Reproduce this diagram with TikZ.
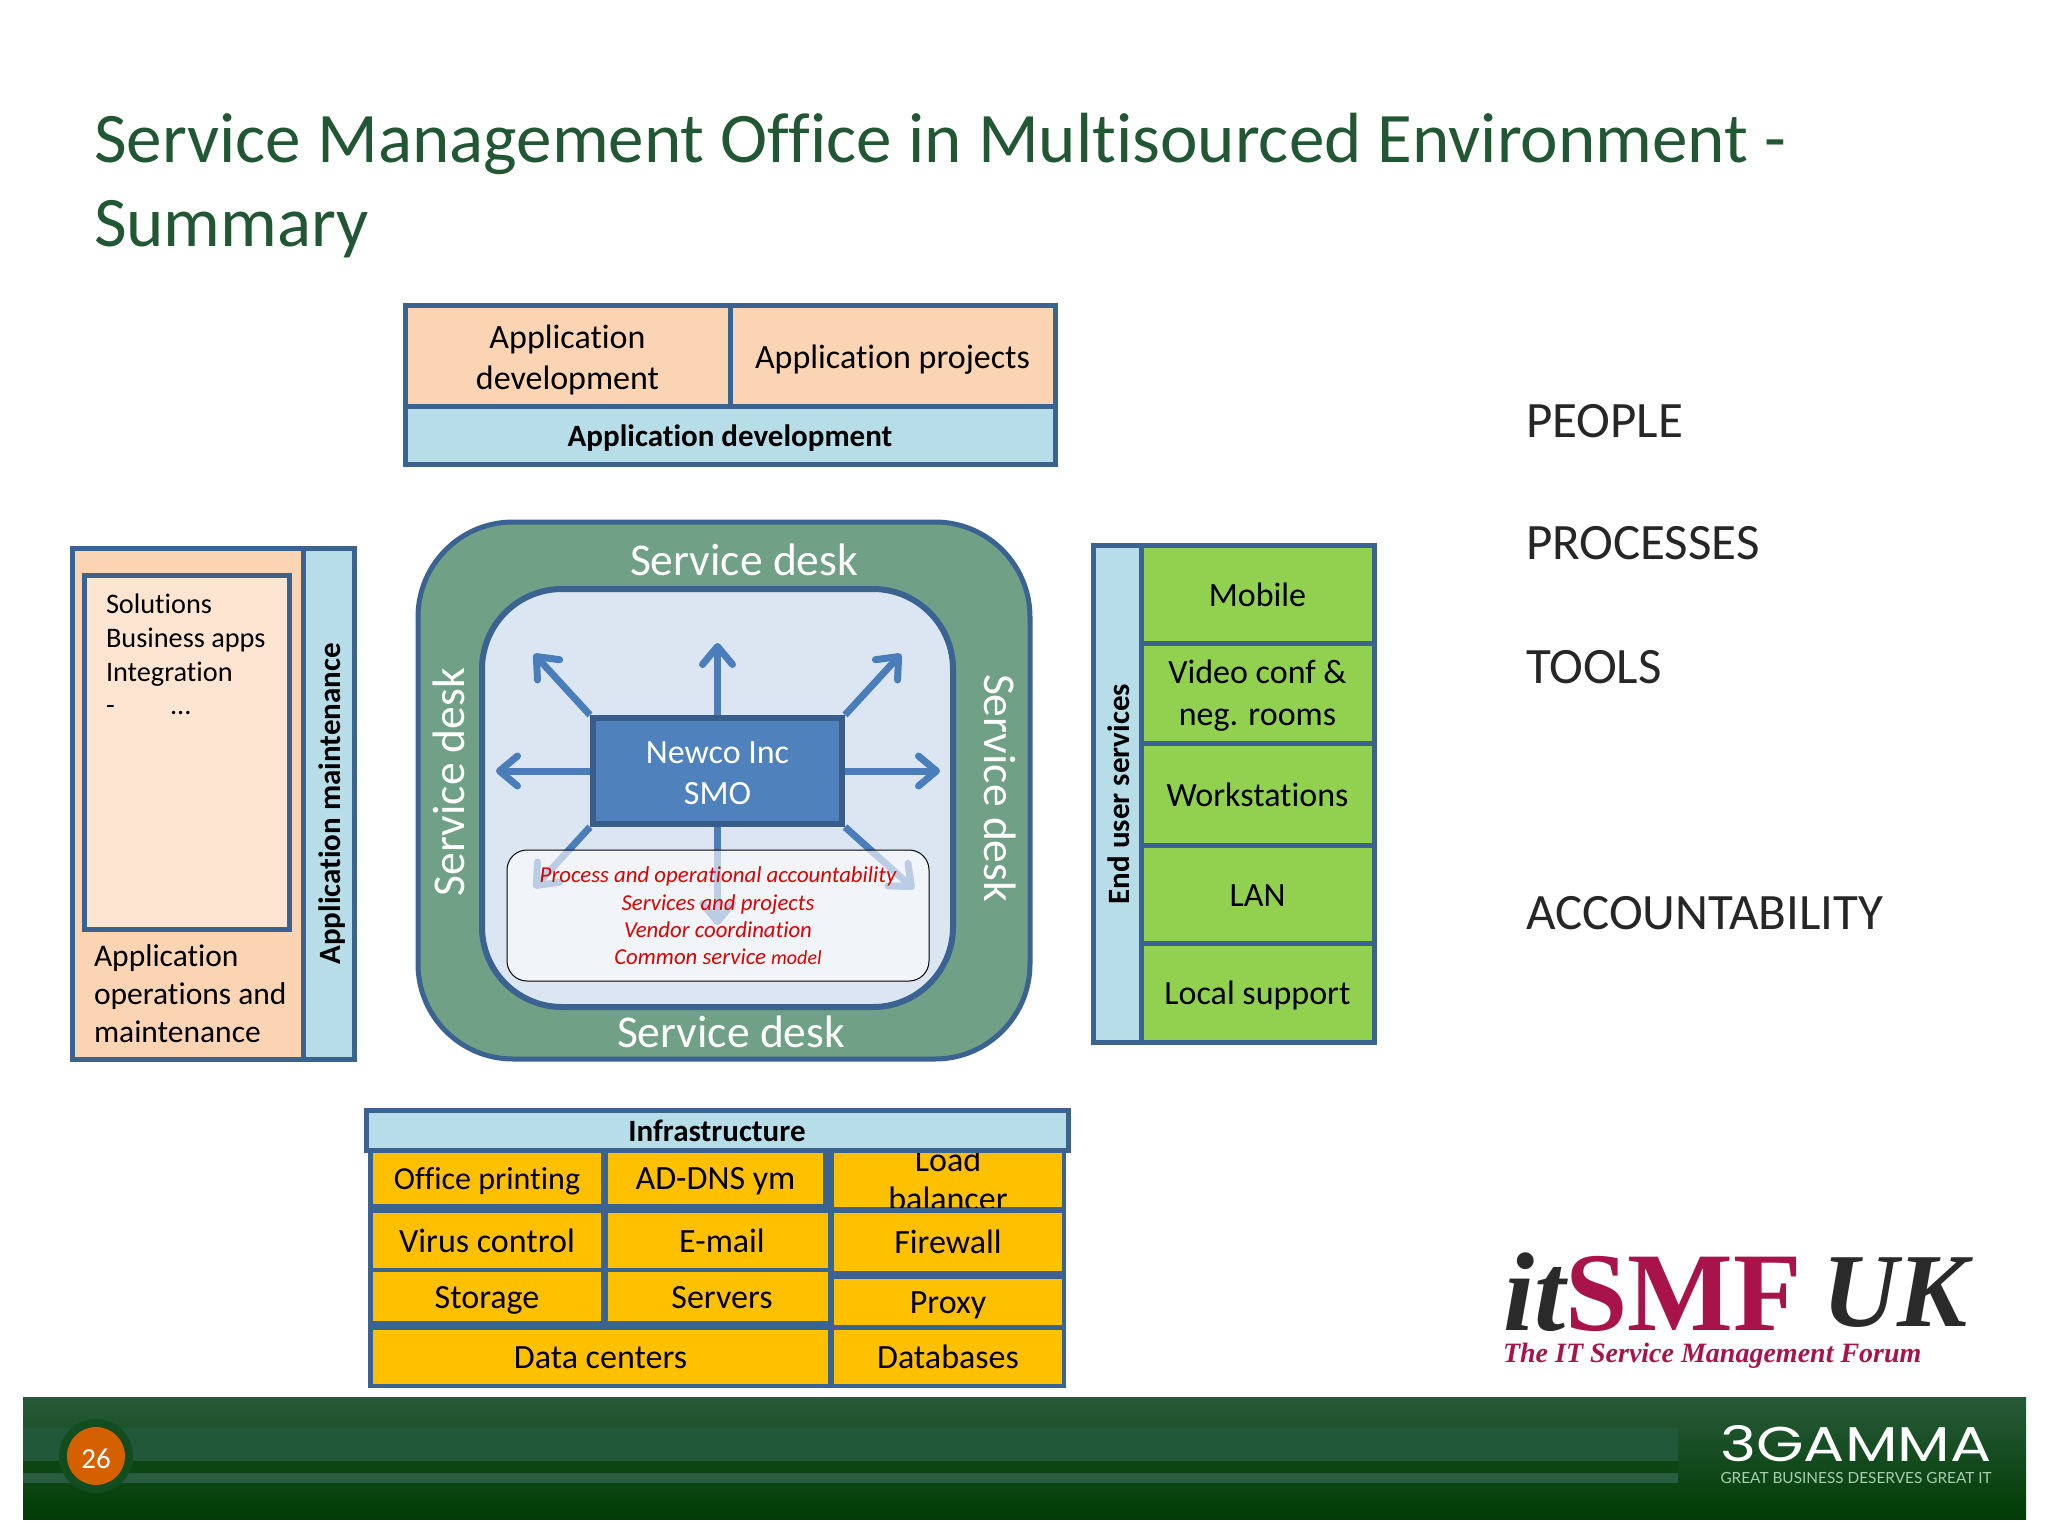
\documentclass[tikz,border=0pt]{standalone}
\usepackage{fontspec}
\usepackage{graphicx}
\setmainfont[Ligatures=NoCommon]{Carlito}
\newfontfamily\logoserif{Liberation Serif}
\newfontfamily\gammafont{Poppins}
\newfontfamily\tagfont{Lato}
\usetikzlibrary{arrows.meta}
\definecolor{titlegreen}{HTML}{215732}
\definecolor{edge}{HTML}{3B6391}
\definecolor{peach}{HTML}{FBD4B4}
\definecolor{paleblue}{HTML}{B7DEE8}
\definecolor{lime}{HTML}{92D050}
\definecolor{amber}{HTML}{FFC000}
\definecolor{deskgreen}{HTML}{70A085}
\definecolor{paleinner}{HTML}{DCE6F2}
\definecolor{smofill}{HTML}{4F81BD}
\definecolor{smoedge}{HTML}{385D8A}
\definecolor{arrowblue}{HTML}{4A7EBB}
\definecolor{crim}{HTML}{A8144A}
\definecolor{footA}{HTML}{285A39}
\definecolor{footB}{HTML}{174F24}
\definecolor{footC}{HTML}{003C04}
\definecolor{footGap}{HTML}{0C4512}
\definecolor{footBand}{HTML}{22583A}
\definecolor{footBandB}{HTML}{2A5C40}
\definecolor{footRing}{HTML}{124D1F}
\definecolor{pageorange}{HTML}{D46000}
\definecolor{tagpale}{HTML}{A8CDB0}
\definecolor{logoink}{HTML}{2A2A2A}
\newcommand{\fsz}[2]{\fontsize{#1}{#2}\selectfont}
\tikzset{
  cell/.style={draw=edge,line width=5pt,inner sep=0pt,outer sep=0pt,align=center,text=black},
  peachcell/.style={cell,fill=peach,font=\fsz{34}{41}},
  bluecell/.style={cell,fill=paleblue,font=\fsz{31}{36}\bfseries,text height=28pt,text depth=6pt},
  limecell/.style={cell,fill=lime,font=\fsz{34}{42}},
  single/.style={text height=30pt,text depth=6pt},
  ambercell/.style={draw=none,fill=amber,inner sep=0pt,outer sep=0pt,align=center,text=black,font=\fsz{34}{40},text height=30pt,text depth=7pt},
  desk/.style={text=white,font=\fsz{45.5}{50},inner sep=0pt},
  spoke/.style={draw=arrowblue,line width=7pt,-{Straight Barb[round,length=18pt,width=30pt,line width=7pt]}},
  plain/.style={inner sep=0pt,outer sep=0pt,anchor=west,text=black},
  sidehead/.style={plain,font=\fsz{51}{52},text=black!85},
  smalltext/.style={plain,font=\fsz{28.3}{32},text height=19pt,text depth=6pt},
  redline/.style={text=red!85!black,font=\fsz{22.8}{27.3}\itshape,inner sep=0pt,align=center},
}
\begin{document}
\begin{tikzpicture}[x=1pt,y=-1pt]
\useasboundingbox (0,0) rectangle (2048,1536);
\fill[white] (0,0) rectangle (2048,1536);
% title
\node[plain,text=titlegreen,font=\fsz{71.1}{71}] (title1) at (94,143.5) {Service Management Office in Multisourced Environment -};
\node[plain,text=titlegreen,font=\fsz{71.1}{71}] (title2) at (94,229) {Summary};
% top block
\node[peachcell,minimum width=325pt,minimum height=101pt] (appdev) at (567.5,356) {};
\node[peachcell,draw=none,fill=none] (appdevtext) at (567.5,359.5) {Application\\development};
\node[peachcell,single,minimum width=325pt,minimum height=101pt] (appproj) at (892.5,356) {Application projects};
\node[bluecell,minimum width=650pt,minimum height=58pt] (appdevhead) at (730,435) {Application development};
% left block
\node[cell,fill=peach,minimum width=231pt,minimum height=511pt] (ops) at (187.5,803.5) {};
\node[cell,fill=paleblue,minimum width=51pt,minimum height=511pt] (maint) at (328.5,803.5) {};
\node[bluecell,draw=none,fill=none,rotate=90] (mainttext) at (329,804) {Application maintenance};
\node[cell,fill=peach!60!white,minimum width=205pt,minimum height=354pt] (solbox) at (186.5,752) {};
\node[smalltext] (sol1) at (106,606.5) {Solutions};
\node[smalltext] (sol2) at (106,640.5) {Business apps};
\node[smalltext] (sol3) at (106,674.5) {Integration};
\node[smalltext] (sol4) at (106,708) {-};
\node[smalltext] (sol5) at (170,708) {...};
\node[plain,font=\fsz{31.5}{38},align=left] (opstext) at (94,994) {Application\\operations and\\maintenance};
% centre
\node[draw=edge,line width=5pt,fill=deskgreen,rounded corners=95pt,minimum width=612pt,minimum height=537pt,inner sep=0pt] (outer) at (724,790.5) {};
\node[draw=edge,line width=6pt,fill=paleinner,rounded corners=80pt,minimum width=471pt,minimum height=418pt,inner sep=0pt] (inner) at (717.5,798) {};
\node[desk] (sdt) at (744,560) {Service desk};
\node[desk] (sdb) at (731,1032) {Service desk};
\node[desk,rotate=90] (sdl) at (449,782) {Service desk};
\node[desk,rotate=-90] (sdr) at (1000,788) {Service desk};
\node[draw=smoedge,line width=6pt,fill=smofill,minimum width=249pt,minimum height=106pt,inner sep=0pt] (smo) at (717.5,771) {};
\coordinate (tipN) at (717.5,643);
\coordinate (tipS) at (717.5,925);
\coordinate (tipW) at (496,771);
\coordinate (tipE) at (940,771);
\coordinate (tipNW) at (534,654);
\coordinate (tipNE) at (901,654);
\coordinate (tipSW) at (534,888);
\coordinate (tipSE) at (914,889);
\draw[spoke] (smo.north) -- (tipN);
\draw[spoke] (smo.south) -- (tipS);
\draw[spoke] (smo.west) -- (tipW);
\draw[spoke] (smo.east) -- (tipE);
\draw[spoke] (smo.north west) -- (tipNW);
\draw[spoke] (smo.north east) -- (tipNE);
\draw[spoke] (smo.south west) -- (tipSW);
\draw[spoke] (smo.south east) -- (tipSE);
\node[draw=smoedge,line width=6pt,fill=smofill,minimum width=249pt,minimum height=106pt,inner sep=0pt] (smotop) at (717.5,771) {};
\node[inner sep=0pt,text=white,align=center,font=\fsz{34}{41}] (smotext) at (717.5,773) {Newco Inc\\SMO};
\node[draw=black,line width=1pt,fill=white,fill opacity=0.62,rounded corners=20pt,minimum width=422pt,minimum height=131pt,inner sep=0pt] (remit) at (718,915.5) {};
\node[redline] (remittext) at (718,916) {Process and operational accountability\\Services and projects\\Vendor coordination\\Common service {\fsz{20}{27.3}model}};
% right block
\node[cell,fill=paleblue,minimum width=48pt,minimum height=497pt] (eus) at (1117,793.5) {};
\node[bluecell,draw=none,fill=none,rotate=90] (eustext) at (1118,794) {End user services};
\node[limecell,single,minimum width=233pt,minimum height=98pt] (mobile) at (1257.5,594) {Mobile};
\node[limecell,minimum width=233pt,minimum height=100pt] (video) at (1257.5,693) {};
\node[limecell,draw=none,fill=none] (videotext) at (1257.5,695.5) {Video conf \&\\neg. rooms};
\node[limecell,single,minimum width=233pt,minimum height=102pt] (ws) at (1257.5,794) {Workstations};
\node[limecell,single,minimum width=233pt,minimum height=98pt] (lan) at (1257.5,894) {LAN};
\node[limecell,single,minimum width=233pt,minimum height=99pt] (local) at (1257.5,992.5) {Local support};
% infrastructure
\node[fill=edge,minimum width=698pt,minimum height=240pt,inner sep=0pt] (infraback) at (717,1268) {};
\node[ambercell,font=\fsz{32}{40},minimum width=228pt,minimum height=52pt] (office) at (487,1178) {Office printing};
\node[ambercell,minimum width=215pt,minimum height=52pt] (adns) at (715.5,1178) {AD-DNS ym};
\node[ambercell,minimum width=228pt,minimum height=54pt] (loadb) at (948,1180) {};
\begin{scope}
\clip (834,1153) rectangle (1062,1207);
\node[inner sep=0pt,align=center,font=\fsz{34}{39}] (loadtext) at (948,1179) {Load\\balancer};
\end{scope}
\node[ambercell,minimum width=228pt,minimum height=55pt] (virus) at (487,1240.5) {Virus control};
\node[ambercell,minimum width=220pt,minimum height=55pt] (email) at (718,1240.5) {\hspace*{8pt}E-mail};
\node[ambercell,minimum width=228pt,minimum height=58pt] (fw) at (948,1242) {Firewall};
\node[ambercell,minimum width=228pt,minimum height=49pt] (stor) at (487,1296.5) {Storage};
\node[ambercell,minimum width=220pt,minimum height=49pt] (serv) at (718,1296.5) {\hspace*{8pt}Servers};
\node[ambercell,minimum width=228pt,minimum height=46pt] (proxy) at (948,1301.5) {Proxy};
\node[ambercell,minimum width=455pt,minimum height=54pt] (dc) at (600.5,1356.5) {Data centers};
\node[ambercell,minimum width=228pt,minimum height=54pt] (dbs) at (948,1356.5) {Databases};
\node[bluecell,minimum width=702pt,minimum height=40pt] (infra) at (717,1130.5) {Infrastructure};
% side words
\node[sidehead] (people) at (1526,421) {PEOPLE};
\node[sidehead] (processes) at (1526,543) {PROCESSES};
\node[sidehead] (tools) at (1526,667) {TOOLS};
\node[sidehead] (account) at (1526,913) {ACCOUNTABILITY};
% logo
\node[plain,text=logoink,font=\logoserif\fsz{112}{112}] (logo) at (1503,1292) {\bfseries\itshape it\textcolor{crim}{\upshape SMF}};
\node[plain,text=logoink,font=\logoserif\fsz{105}{105}\bfseries\itshape] (logouk) at (1822,1293) {UK};
\node[plain,text=crim,font=\logoserif\fsz{28}{30}\bfseries\itshape] (logotag) at (1503,1356) {The IT Service Management Forum};
% footer
\shade[top color=footA,middle color=footB,bottom color=footC] (23,1397) rectangle (2026,1519);
\fill[footGap] (23,1461) rectangle (1678,1473);
\fill[footBand] (23,1428) rectangle (1678,1461);
\fill[footBandB] (23,1473) rectangle (1678,1483);
\fill[footRing] (96,1456) circle (37);
\fill[footBand] (133,1428) rectangle (1678,1461);
\node[circle,fill=pageorange,minimum size=58pt,inner sep=0pt] (page) at (96,1456) {};
\node[inner sep=0pt,text=white,font=\fsz{29}{30}] (pagenum) at (96,1459) {26};
\node[inner sep=0pt,text=white] (gamma) at (1856,1444) {\resizebox{271pt}{36pt}{\gammafont 3GAMMA}};
\node[inner sep=0pt,text=tagpale] (gammatag) at (1856,1478) {\resizebox{271pt}{!}{\tagfont GREAT BUSINESS DESERVES GREAT IT}};
\end{tikzpicture}
\end{document}
